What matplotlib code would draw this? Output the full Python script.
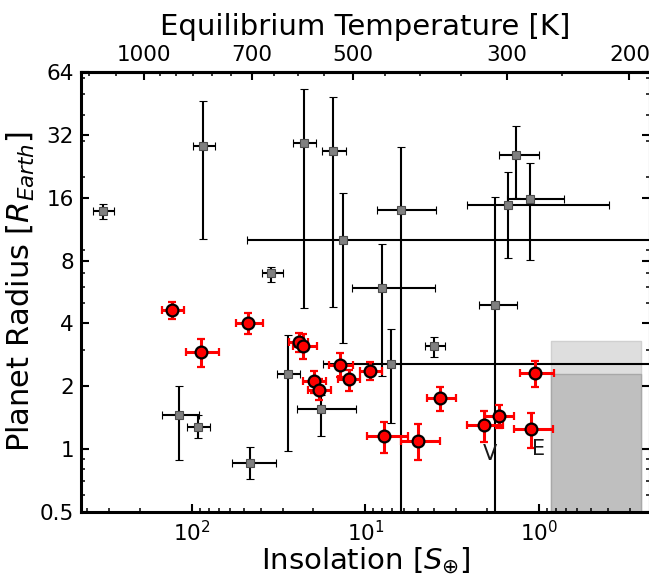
import numpy as np
import matplotlib
matplotlib.use('Agg')
import matplotlib.pyplot as plt
from matplotlib.ticker import FixedLocator, FixedFormatter, LogLocator, NullFormatter

# other known planets (grey squares): insolation [S_earth] and radius [R_earth] with bounds
gray_s     = [324, 86.4, 22.5, 15.45, 13.43, 35.1, 118.8, 92.7, 46.3, 28.1, 18.05, 6.27, 1.352, 1.503, 1.127, 1.793, 8.0, 7.16, 4.03]
gray_s_max = [371, 99.1, 26.3, 17.7, 48.4, 39.5, 148.3, 107.4, 59.0, 32.5, 24.7, 8.62, 1.70, 2.61, 1.535, 2.23, 12.0, 17.6, 4.54]
gray_s_min = [282, 73.4, 19.2, 13.0, 0.05, 30.0, 90.8, 79.1, 32.8, 23.9, 11.34, 3.92, 1.0, 0.393, 0.715, 1.334, 3.96, 0.05, 3.48]
gray_r     = [13.8, 28.4, 29.2, 26.9, 10.0, 6.95, 1.457, 1.281, 0.861, 2.29, 1.55, 13.97, 25.5, 14.8, 15.72, 4.90, 5.89, 2.56, 3.12]
gray_r_max = [14.9, 46.6, 53.2, 48.7, 16.8, 7.48, 2.01, 1.452, 1.02, 3.53, 1.82, 28.1, 35.4, 21.3, 23.5, 16.07, 9.57, 3.75, 3.45]
gray_r_min = [12.65, 10.2, 4.76, 4.79, 3.21, 6.32, 0.887, 1.134, 0.719, 0.98, 1.156, 0.1, 15.9, 8.2, 8.05, 0.1, 2.25, 1.34, 2.75]

# this sample (red circles)
red_s     = [129.9, 88.8, 47.4, 24.27, 22.8, 19.8, 18.46, 14.03, 12.4, 9.42, 3.72, 7.79, 5.0, 2.07, 1.69, 1.05, 1.11]
red_s_max = [149.5, 108.7, 56.0, 27.5, 26.1, 22.8, 21.4, 16.2, 14.35, 10.76, 4.44, 9.84, 6.27, 2.61, 2.05, 1.287, 1.39]
red_s_min = [111.2, 69.6, 39.2, 21.4, 18.95, 16.9, 15.7, 11.85, 10.76, 8.07, 3.01, 5.67, 3.72, 1.61, 1.39, 0.816, 0.834]
red_r     = [4.64, 2.91, 4.0, 3.25, 3.13, 2.11, 1.92, 2.53, 2.16, 2.37, 1.76, 1.152, 1.098, 1.30, 1.44, 2.31, 1.249]
red_r_max = [5.07, 3.36, 4.47, 3.61, 3.56, 2.37, 2.16, 2.88, 2.39, 2.62, 1.99, 1.353, 1.32, 1.52, 1.63, 2.64, 1.485]
red_r_min = [4.21, 2.47, 3.55, 2.93, 2.69, 1.85, 1.72, 2.22, 1.90, 2.14, 1.52, 0.955, 0.884, 1.085, 1.258, 1.99, 1.01]

# habitable zone box
hz_s = [0.853, 0.258]
hz_r_light = 3.3
hz_r_dark = 2.29

# solar system
ss_names = ['V', 'E']
ss_s = [1.91, 1.0]
ss_r = [0.95, 1.0]

y_ticks = [0.5, 1, 2, 4, 8, 16, 32, 64]
y_labels = ['0.5', '1', '2', '4', '8', '16', '32', '64']
t_major = [1000, 700, 500, 300, 200]
t_minor = [1200, 1100, 950, 900, 850, 800, 750, 650, 600, 550, 450, 400, 350, 250]


def s_to_t(s):
    return 270.0 * np.abs(s) ** 0.25


def t_to_s(t):
    return (np.abs(t) / 270.0) ** 4


def err(v, lo, hi):
    v = np.array(v); return [v - np.array(lo), np.array(hi) - v]


plt.rcParams['font.family'] = 'DejaVu Sans'
fig = plt.figure(figsize=(6.49, 5.78), dpi=100)
ax = fig.add_axes([81 / 649, 66 / 578, 569 / 649, 440 / 578])
ax.set_xscale('log')
ax.set_yscale('log')

ax.fill_between(hz_s, 0.1, hz_r_light, color='#dedede', edgecolor='#d0d0d0', lw=1, zorder=0)
ax.fill_between(hz_s, 0.1, hz_r_dark, color='#bfbfbf', edgecolor='#a8a8a8', lw=1, zorder=0.5)

ax.errorbar(gray_s, gray_r, xerr=err(gray_s, gray_s_min, gray_s_max),
            yerr=err(gray_r, gray_r_min, gray_r_max), fmt='s', ms=5.5,
            mfc='#808080', mec='#4d4d4d', mew=0.8, ecolor='k', elinewidth=1.5,
            capsize=2.6, capthick=1.2, zorder=2)
ax.errorbar(red_s, red_r, xerr=err(red_s, red_s_min, red_s_max),
            yerr=err(red_r, red_r_min, red_r_max), fmt='o', ms=8.5,
            mfc='#ff0000', mec='k', mew=1.6, ecolor='#ff0000', elinewidth=2.2,
            capsize=3, capthick=2.2, zorder=3)

for name, s, r in zip(ss_names, ss_s, ss_r):
    ax.text(s, r, name, fontsize=15, ha='center', va='center', color='#1a1a1a', zorder=4)

ax.set_xlim(436, 0.229)
ax.set_ylim(0.5, 64)

ax.yaxis.set_major_locator(FixedLocator(y_ticks))
ax.yaxis.set_major_formatter(FixedFormatter(y_labels))
ax.yaxis.set_minor_locator(LogLocator(base=10, subs=np.arange(2, 10)))
ax.yaxis.set_minor_formatter(NullFormatter())
ax.xaxis.set_minor_locator(LogLocator(base=10, subs=np.arange(2, 10)))
ax.xaxis.set_minor_formatter(NullFormatter())

ax.tick_params(which='both', direction='in', top=False, right=True, labelsize=15.5)
ax.tick_params(which='major', length=6, width=1.5)
ax.tick_params(which='minor', length=3, width=1.1)
ax.tick_params(axis='y', pad=5)
ax.tick_params(axis='x', pad=6)
for sp in ax.spines.values():
    sp.set_linewidth(2.2)

ax.set_xlabel(r'Insolation [$S_{\oplus}$]', fontsize=21, labelpad=0)
ax.set_ylabel(r'Planet Radius [$R_{Earth}$]', fontsize=22, labelpad=2)

sec = ax.secondary_xaxis('top', functions=(s_to_t, t_to_s))
sec.xaxis.set_major_locator(FixedLocator(t_major))
sec.xaxis.set_major_formatter(FixedFormatter([str(t) for t in t_major]))
sec.xaxis.set_minor_locator(FixedLocator(t_minor))
sec.xaxis.set_minor_formatter(NullFormatter())
sec.tick_params(which='both', direction='in', labelsize=15.5, pad=5)
sec.tick_params(which='major', length=6, width=1.5)
sec.tick_params(which='minor', length=3, width=1.1)
sec.spines['top'].set_linewidth(2.2)
sec.set_xlabel('Equilibrium Temperature [K]', fontsize=21, labelpad=7)

fig.savefig('out.png', dpi=100)
